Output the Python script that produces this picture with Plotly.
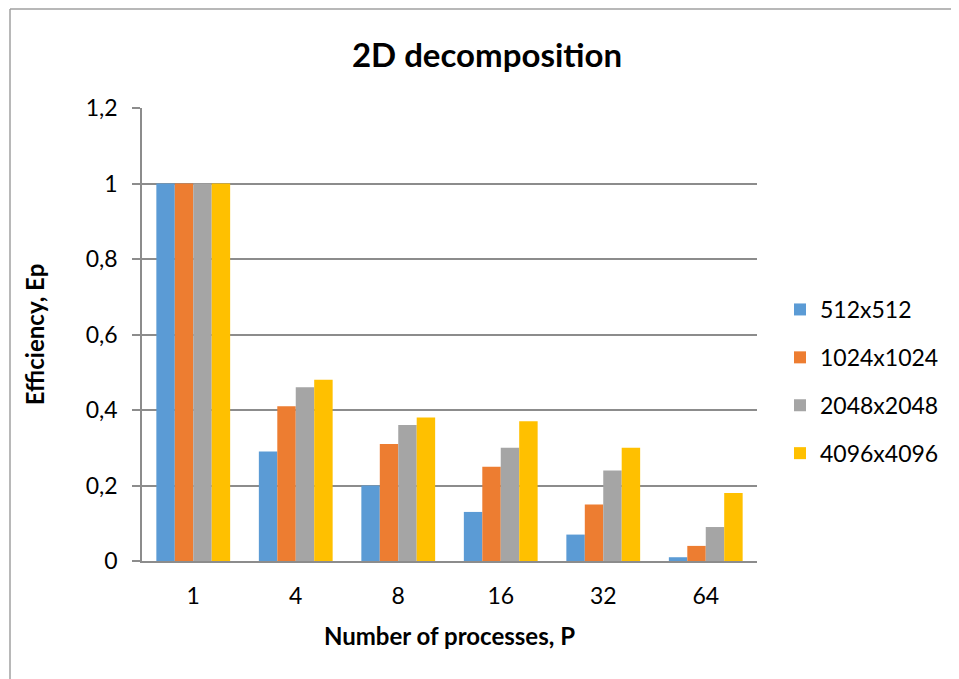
import plotly.graph_objects as go

categories = ["1", "4", "8", "16", "32", "64"]
series_names = ["512x512", "1024x1024", "2048x2048", "4096x4096"]
s512 = [1.0, 0.29, 0.20, 0.13, 0.07, 0.01]
s1024 = [1.0, 0.41, 0.31, 0.25, 0.15, 0.04]
s2048 = [1.0, 0.46, 0.36, 0.30, 0.24, 0.09]
s4096 = [1.0, 0.48, 0.38, 0.37, 0.30, 0.18]
y_ticks = [0, 0.2, 0.4, 0.6, 0.8, 1.0, 1.2]
y_tick_labels = ["0", "0,2", "0,4", "0,6", "0,8", "1", "1,2"]

colors = ["#5B9BD5", "#ED7D31", "#A5A5A5", "#FFC000"]
values = [s512, s1024, s2048, s4096]

OFF = 8  # page body margin
W, H = 959 - OFF, 679 - OFF
L, R, T, B = 142, 757, 108, 561  # target page pixels of the plot area

fig = go.Figure()
for name, vals, c in zip(series_names, values, colors):
    fig.add_trace(go.Bar(x=categories, y=vals, name=name, legendgroup=name,
                         marker=dict(color=c, line=dict(width=0))))

FONT = "Lato, Open Sans, sans-serif"
gridc = "#8C8C8C"

def px_x(p):
    return (p - L) / (R - L)

def px_y(p):
    return (B - p) / (B - T)

fig.update_layout(
    width=W, height=H,
    margin=dict(l=L - OFF, r=W - (R - OFF), t=T - OFF, b=H - (B - OFF),
                autoexpand=False),
    paper_bgcolor="white", plot_bgcolor="white",
    barmode="group", bargap=0.28, bargroupgap=0,
    separators=", ",
    font=dict(family=FONT, size=23, color="#000000"),
    title=dict(text="<b>2D decomposition</b>", font=dict(size=33, family=FONT),
               x=px_x(487), xref="paper", xanchor="center",
               y=1 - (55 - OFF) / H, yref="container", yanchor="middle"),
    showlegend=True,
    legend=dict(x=px_x(780), xanchor="left", y=px_y(288), yanchor="top",
                font=dict(size=23, family=FONT), tracegroupgap=15,
                bgcolor="rgba(0,0,0,0)"),
    xaxis=dict(type="category", showgrid=False, showline=True, linecolor=gridc,
               linewidth=2, ticks="", tickfont=dict(size=23),
               ticklabelstandoff=13,
               title=dict(text="<b>Number of processes, P</b>", font=dict(size=24),
                          standoff=21)),
    yaxis=dict(range=[0, 1.2], tickvals=y_ticks, ticktext=y_tick_labels,
               showgrid=True, gridcolor=gridc, gridwidth=1.5,
               showline=True, linecolor=gridc, linewidth=1.5,
               ticks="outside", ticklen=8, tickcolor=gridc, tickwidth=1.5,
               tickfont=dict(size=23), zeroline=False, ticklabelstandoff=10,
               title=dict(text="<b>Efficiency, Ep</b>", font=dict(size=24),
                          standoff=34)),
)

# outer chart border (left and top edges visible)
fig.add_shape(type="line", xref="paper", yref="paper",
              x0=px_x(10), x1=px_x(10), y0=px_y(9), y1=px_y(700),
              line=dict(color="#A0A0A0", width=1.5))
fig.add_shape(type="line", xref="paper", yref="paper",
              x0=px_x(10), x1=px_x(980), y0=px_y(9), y1=px_y(9),
              line=dict(color="#A0A0A0", width=1.5))

fig.write_html("out.html", config={"displayModeBar": False})
